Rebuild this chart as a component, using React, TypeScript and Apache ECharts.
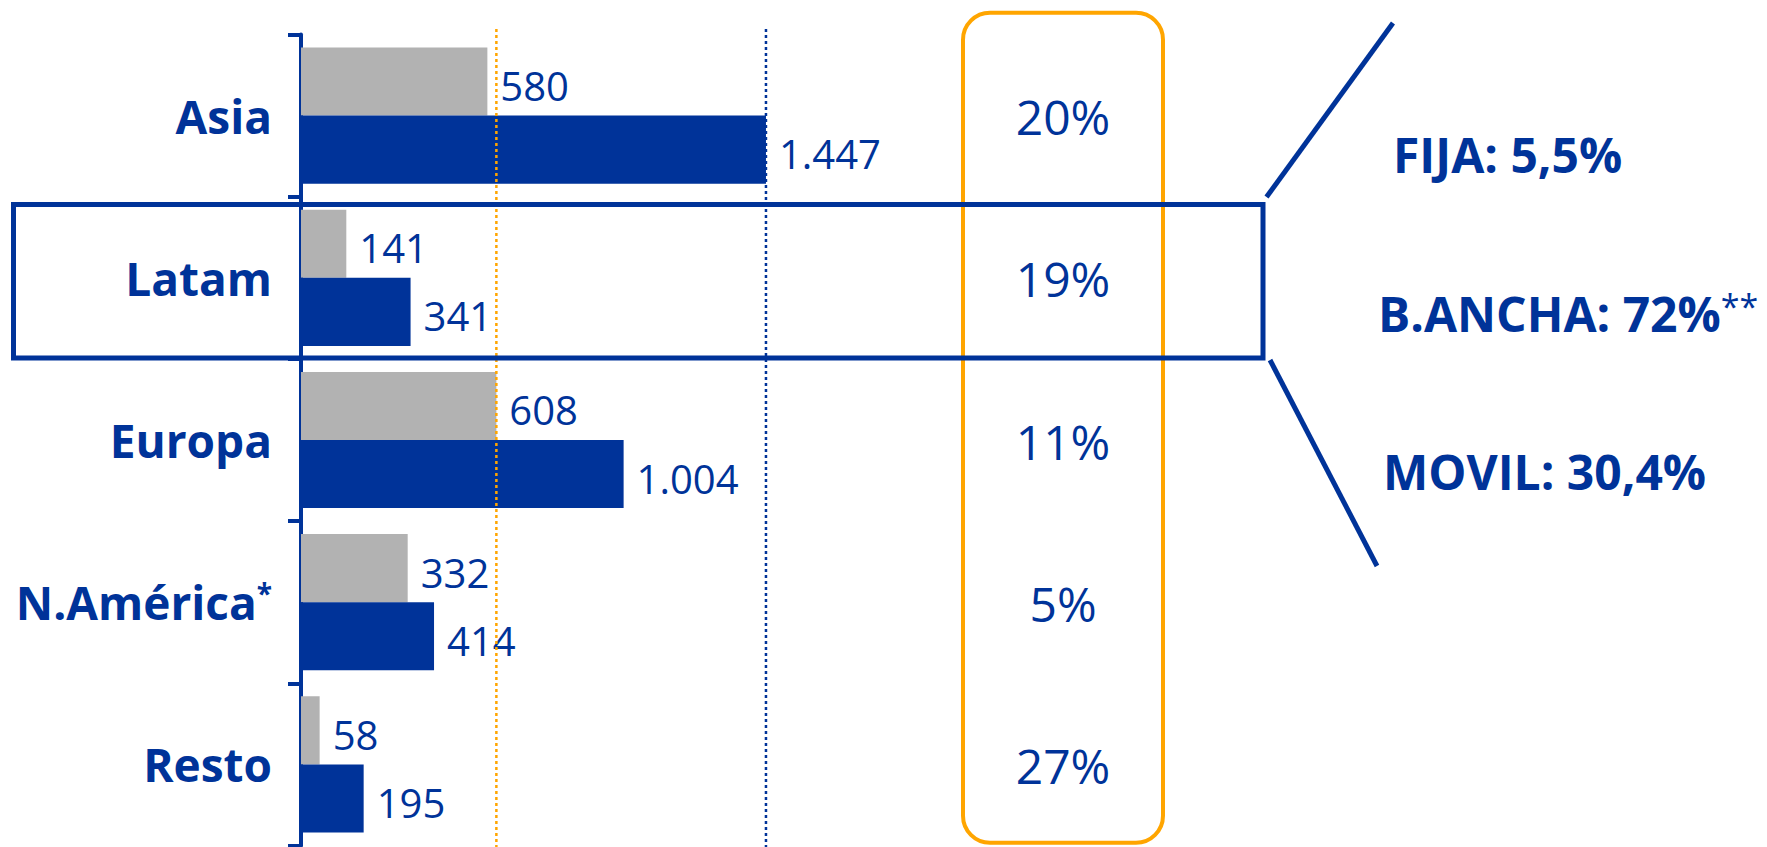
import React, { useEffect, useRef } from "react";
import * as echarts from "echarts";

const categories = ["Asia", "Latam", "Europa", "N.América", "Resto"];
const categoryMarks = ["", "", "", "*", ""];
const grayValues = [580, 141, 608, 332, 58];
const blueValues = [1447, 341, 1004, 414, 195];
const shares = ["20%", "19%", "11%", "5%", "27%"];
const breakdownLabels = ["FIJA: 5,5%", "B.ANCHA: 72%", "MOVIL: 30,4%"];
const breakdownMarks = ["", "**", ""];
const refLines = [608, 1447];

const BLUE = "#003399";
const GRAY = "#B2B2B2";
const ORANGE = "#FFA500";
const FONT = '"Open Sans", "Noto Sans", sans-serif';

const fmt = (v: number) => String(v).replace(/\B(?=(\d{3})+(?!\d))/g, ".");

export default function App() {
  const ref = useRef<HTMLDivElement>(null);

  useEffect(() => {
    if (!ref.current) return;
    const chart = echarts.init(ref.current, undefined, { renderer: "svg" });

    const labelStyle = {
      show: true,
      position: "right" as const,
      distance: 13,
      offset: [0, 4],
      formatter: (p: any) => fmt(p.value),
      fontFamily: FONT,
      fontSize: 40,
      color: BLUE,
    };

    chart.setOption({
      animation: false,
      grid: { left: 301, top: 34.5, width: 482, height: 811 },
      xAxis: { type: "value", min: 0, max: 1500, show: false },
      yAxis: {
        type: "category",
        inverse: true,
        data: categories,
        axisLine: { show: true, lineStyle: { color: BLUE, width: 4 } },
        axisTick: { show: true, length: 13, lineStyle: { color: BLUE, width: 4 } },
        splitLine: { show: false },
        axisLabel: {
          margin: 29,
          formatter: (v: string, i: number) =>
            categoryMarks[i] ? `{b|${v}}{s|${categoryMarks[i]}}` : `{b|${v}}`,
          rich: {
            b: { fontFamily: FONT, fontWeight: "bold", fontSize: 46, color: BLUE },
            s: { fontFamily: FONT, fontWeight: "bold", fontSize: 28, color: BLUE, verticalAlign: "top" },
          },
        },
      },
      series: [
        {
          type: "bar",
          data: grayValues,
          itemStyle: { color: GRAY },
          barGap: "0%",
          barCategoryGap: "16%",
          label: labelStyle,
        },
        {
          type: "bar",
          data: blueValues,
          itemStyle: { color: BLUE },
          barGap: "0%",
          barCategoryGap: "16%",
          label: labelStyle,
        },
      ],
    });

    const graphics: any[] = [];
    refLines.forEach((v, i) => {
      const x = chart.convertToPixel({ xAxisIndex: 0 }, v) as number;
      graphics.push({
        type: "line",
        z: 50,
        shape: { x1: x, y1: 29, x2: x, y2: 847 },
        style: { stroke: i === 0 ? ORANGE : BLUE, lineWidth: 2.5, lineDash: [3, 3] },
      });
    });
    shares.forEach((s, i) => {
      const y = chart.convertToPixel({ yAxisIndex: 0 }, categories[i]) as number;
      graphics.push({
        type: "text",
        z: 60,
        x: 1063,
        y: y + 1,
        style: {
          text: s,
          font: `48px ${FONT}`,
          fill: BLUE,
          textAlign: "center",
          textVerticalAlign: "middle",
        },
      });
    });
    graphics.push({
      type: "rect",
      z: 40,
      shape: { x: 963, y: 12.7, width: 200, height: 830, r: 27 },
      style: { fill: "none", stroke: ORANGE, lineWidth: 4 },
    });
    graphics.push({
      type: "rect",
      z: 70,
      shape: { x: 13.5, y: 204.5, width: 1249.5, height: 153.5 },
      style: { fill: "none", stroke: BLUE, lineWidth: 5 },
    });
    graphics.push({
      type: "line",
      z: 70,
      shape: { x1: 1266.5, y1: 197, x2: 1393, y2: 23 },
      style: { stroke: BLUE, lineWidth: 5 },
    });
    graphics.push({
      type: "line",
      z: 70,
      shape: { x1: 1270, y1: 360, x2: 1377, y2: 566 },
      style: { stroke: BLUE, lineWidth: 5 },
    });
    const bPos = [
      [1393, 154],
      [1378, 313],
      [1383, 471],
    ];
    breakdownLabels.forEach((t, i) => {
      graphics.push({
        type: "text",
        z: 70,
        x: bPos[i][0],
        y: bPos[i][1],
        style: {
          text: breakdownMarks[i] ? `{a|${t}}{s|${breakdownMarks[i]}}` : `{a|${t}}`,
          textVerticalAlign: "middle",
          textAlign: "left",
          rich: {
            a: { fontFamily: FONT, fontWeight: "bold", fontSize: 48, fill: BLUE },
            s: { fontFamily: FONT, fontSize: 34, fill: BLUE, verticalAlign: "top" },
          },
        },
      });
    });
    chart.setOption({ graphic: graphics });

    return () => chart.dispose();
  }, []);

  return (
    <div
      ref={ref}
      style={{ position: "fixed", left: 0, top: 0, width: 1767, height: 847, background: "#fff" }}
    />
  );
}
